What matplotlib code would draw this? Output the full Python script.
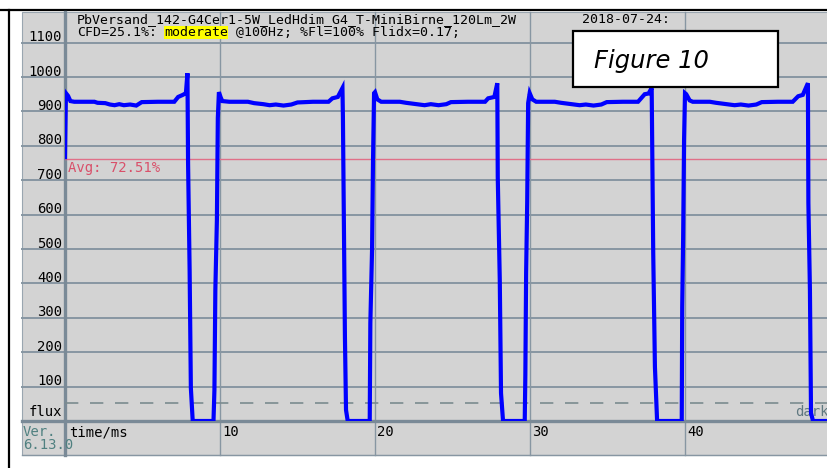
import matplotlib
matplotlib.use("Agg")
import matplotlib.pyplot as plt
from matplotlib.patches import Rectangle
from matplotlib.lines import Line2D
from matplotlib.transforms import blended_transform_factory

# measured trace (time in ms, flux in arbitrary units)
time_ms = [0.00, 0.06, 0.20, 0.35, 0.60, 1.90, 2.10, 2.60, 2.90, 3.20, 3.50, 3.80, 4.20, 4.60,
           4.95, 6.00, 7.05, 7.30, 7.60, 7.80, 7.90, 7.94, 8.04, 8.12, 8.24, 9.58, 9.64, 9.70,
           9.80, 9.86, 9.93, 10.05, 10.15,
           10.60, 11.80, 12.20, 12.80, 13.20, 13.60, 14.10, 14.60, 15.00, 16.00, 17.00, 17.25,
           17.60, 17.90, 17.93, 18.00, 18.06, 18.13, 18.24, 19.66, 19.70, 19.81, 19.87, 19.94,
           20.00, 20.15, 20.40,
           21.60, 22.00, 22.70, 23.20, 23.60, 24.10, 24.60, 24.90, 26.00, 27.10, 27.30, 27.70,
           27.89, 27.92, 28.05, 28.13, 28.26, 29.66, 29.70, 29.75, 29.82, 29.88, 29.98, 30.15,
           30.40,
           31.60, 32.00, 32.70, 33.20, 33.60, 34.10, 34.60, 34.95, 36.00, 36.97, 37.40, 37.65,
           37.85, 37.88, 37.95, 38.06, 38.20, 39.79, 39.82, 39.88, 39.94, 40.00, 40.08, 40.30,
           40.50,
           41.60, 42.00, 42.70, 43.20, 43.60, 44.10, 44.60, 44.95, 46.00, 46.95, 47.30, 47.60,
           47.93, 47.96, 48.06, 48.13, 48.26, 49.30]
flux = [767, 953, 945, 930, 928, 928, 925, 924, 920, 918, 921, 918, 920, 917,
        927, 928, 928, 942, 948, 953, 1011, 750, 440, 96, 0, 0, 90, 381,
        584, 881, 956, 940, 930,
        928, 928, 924, 921, 918, 920, 917, 920, 926, 928, 928, 938,
        942, 968, 884, 555, 244, 32, 0, 0, 285, 497, 753, 953,
        956, 935, 928,
        928, 925, 921, 918, 921, 918, 921, 927, 928, 928, 938, 942,
        982, 709, 410, 81, 0, 0, 134, 430, 637, 924, 953, 935,
        928,
        928, 925, 921, 918, 920, 917, 920, 927, 928, 928, 950, 952,
        968, 831, 488, 157, 0, 0, 331, 532, 817, 953, 950, 932,
        928,
        928, 925, 921, 918, 920, 917, 920, 927, 928, 928, 944, 948,
        982, 634, 381, 23, 0, 0]

y_ticks = [100, 200, 300, 400, 500, 600, 700, 800, 900, 1000, 1100]
x_ticks = [10, 20, 30, 40]
avg_level = 761
dark_level = 52

title_1 = "PbVersand_142-G4Cer1-5W_LedHdim_G4_T-MiniBirne_120Lm_2W"
title_date = "2018-07-24:"
cfd_text = "CFD=25.1%:"
cfd_class = "moderate"
cfd_rest = " @100Hz; %Fl=100% Flidx=0.17;"

W, H = 828, 468
panel_col = "#d3d3d3"
grid_col = "#8796a2"
axis_col = "#7a8a97"
mono = "DejaVu Sans Mono"


def fx(px):
    return px / W


def fy(py):
    return 1 - py / H


fig = plt.figure(figsize=(W / 100, H / 100), dpi=100)
fig.patch.set_facecolor("white")

# grey panel
fig.add_artist(Rectangle((fx(22), fy(455)), fx(806), (455 - 12) / H, transform=fig.transFigure,
                         facecolor=panel_col, edgecolor="#9aa6b0", lw=0.8, zorder=0))

# black frame lines
fig.add_artist(Line2D([0, 1], [fy(10), fy(10)], color="black", lw=1.6, zorder=0.5))
fig.add_artist(Line2D([fx(8.5), fx(8.5)], [fy(10), 0], color="black", lw=1.6, zorder=0.5))

ax = fig.add_axes([fx(65), fy(421), (W - 65) / W, (421 - 12) / H])
ax.set_zorder(1)
ax.patch.set_alpha(0)
ax.set_xlim(0, (W - 65) / 15.5)
ax.set_ylim(0, (421 - 12) / 34.4 * 100)
for s in ax.spines.values():
    s.set_visible(False)
ax.set_xticks([])
ax.set_yticks([])

left_ext = (22 - 65) / (W - 65)
down_ext = (421 - 455) / (421 - 12)

for v in y_ticks:
    ax.axhline(v, xmin=left_ext, xmax=1, color=grid_col, lw=1.4, clip_on=False, zorder=1)
for t in x_ticks:
    ax.axvline(t, ymin=down_ext, ymax=1, color=grid_col, lw=1.0, clip_on=False, zorder=1)

# thick axis lines and bottom border
ax.axvline(0, ymin=down_ext, ymax=1, color=axis_col, lw=2.4, clip_on=False, zorder=2)
ax.axhline(0, xmin=left_ext, xmax=1, color=axis_col, lw=2.4, clip_on=False, zorder=2)
fig.add_artist(Line2D([fx(22), 1], [fy(454.5), fy(454.5)], color=grid_col, lw=1.0, zorder=0.6))

# avg and dark lines
ax.axhline(avg_level, color="#e07088", lw=1.0, zorder=3)
ax.axhline(dark_level, color="#7b8b8f", lw=1.2, dashes=(8, 7), zorder=3)

# trace
ax.plot(time_ms, flux, color="#0000ff", lw=3.0, solid_joinstyle="miter", zorder=4)

ytr = blended_transform_factory(ax.transAxes, ax.transData)
xtr = blended_transform_factory(ax.transData, ax.transAxes)

for v in y_ticks:
    ax.text(-0.004, v + 4, str(v), transform=ytr, ha="right", va="baseline",
            fontsize=10, family=mono, color="black", clip_on=False)
ax.text(-0.004, 14, "flux", transform=ytr, ha="right", va="baseline",
        fontsize=10, family=mono, color="black", clip_on=False)
ax.text((795 - 65) / 15.5, 14, "dark", ha="left", va="baseline",
        fontsize=10, family=mono, color="#5f7880", clip_on=False)
ax.text(0.2, avg_level - 37, "Avg: 72.51%", ha="left", va="baseline",
        fontsize=10, family=mono, color="#d9506a")

for t in x_ticks:
    ax.text(t + 0.12, (421 - 436) / 409, str(t), transform=xtr, ha="left", va="baseline",
            fontsize=10, family=mono, color="black", clip_on=False)
ax.text(0.25, (421 - 436) / 409, "time/ms", transform=xtr, ha="left", va="baseline",
        fontsize=10, family=mono, color="black", clip_on=False)

# version label
fig.text(fx(23), fy(436), "Ver.", fontsize=10, family=mono, color="#4f8080", va="baseline", zorder=3)
fig.text(fx(23), fy(449), "6.13.0", fontsize=10, family=mono, color="#4f8080", va="baseline", zorder=3)

# header text
hdr = 9.5
fig.text(fx(77), fy(23), title_1, fontsize=hdr, family=mono, va="baseline", zorder=3)
fig.text(fx(582), fy(23), title_date, fontsize=hdr, family=mono, va="baseline", zorder=3)
fig.text(fx(77), fy(36), cfd_text, fontsize=hdr, family=mono, va="baseline", zorder=3)
fig.text(fx(164), fy(36), cfd_class, fontsize=hdr, family=mono, va="baseline", zorder=3,
         bbox=dict(facecolor="#ffff00", edgecolor="none", pad=0))
fig.text(fx(228), fy(36), cfd_rest, fontsize=hdr, family=mono, va="baseline", zorder=3)

# figure label box
fig.add_artist(Rectangle((fx(573), fy(87)), (778 - 573) / W, (87 - 31) / H, transform=fig.transFigure,
                         facecolor="white", edgecolor="black", lw=1.6, zorder=5))
fig.text(fx(594), fy(68), "Figure 10", fontsize=17.5, style="italic", family="DejaVu Sans",
         va="baseline", ha="left", zorder=6)

fig.savefig("out.png", dpi=100)
